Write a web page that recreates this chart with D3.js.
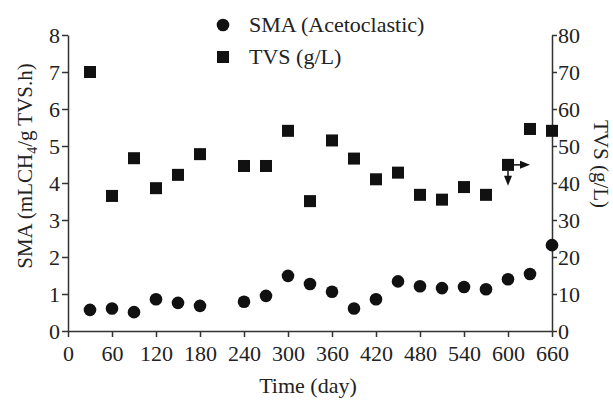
<!DOCTYPE html>
<html>
<head>
<meta charset="utf-8">
<script src="https://cdn.jsdelivr.net/npm/d3@7"></script>
<style>
  body { margin: 0; background: #fff; }
  text { font-family: "Liberation Serif", "Times New Roman", serif; fill: #222; }
</style>
</head>
<body>
<div id="chart"></div>
<script>
// time in days
const days = [30, 60, 90, 120, 150, 180, 240, 270, 300, 330, 360, 390, 420, 450, 480, 510, 540, 570, 600, 630, 660];
// SMA (Acetoclastic), mLCH4/g TVS.h
const sma = [0.57, 0.61, 0.51, 0.86, 0.76, 0.68, 0.79, 0.95, 1.49, 1.27, 1.06, 0.61, 0.86, 1.34, 1.21, 1.16, 1.19, 1.13, 1.40, 1.54, 2.32];
// TVS, g/L
const tvs = [70, 36.5, 46.7, 38.6, 42.2, 47.8, 44.6, 44.6, 54.1, 35.1, 51.5, 46.6, 41.0, 42.8, 36.8, 35.5, 38.9, 36.8, 44.9, 54.6, 54.1];
const xTicks = d3.range(0, 661, 60);
const leftTicks = d3.range(0, 9, 1);
const rightTicks = d3.range(0, 81, 10);

const width = 613, height = 400;
const margin = {top: 35, right: 61, bottom: 69, left: 68};

const svg = d3.select("#chart").append("svg")
    .attr("width", width)
    .attr("height", height);

const x = d3.scaleLinear().domain([0, 660]).range([margin.left, width - margin.right]);
const yL = d3.scaleLinear().domain([0, 8]).range([height - margin.bottom, margin.top]);
const yR = d3.scaleLinear().domain([0, 80]).range([height - margin.bottom, margin.top]);

function styleAxis(g) {
    g.selectAll("path, line").attr("stroke", "#333").attr("stroke-width", 1.5);
    g.selectAll("text").style("font-family", '"Liberation Serif", serif').style("font-size", "22px").attr("fill", "#222");
}

svg.append("g")
    .attr("transform", `translate(0,${height - margin.bottom})`)
    .call(d3.axisBottom(x).tickValues(xTicks).tickSize(6).tickPadding(8).tickSizeOuter(0))
    .call(styleAxis);

svg.append("g")
    .attr("transform", `translate(${margin.left},0)`)
    .call(d3.axisLeft(yL).tickValues(leftTicks).tickSize(6).tickPadding(2).tickSizeOuter(0))
    .call(styleAxis)
    .call(g => g.selectAll("text").attr("dy", "0.35em"));

svg.append("g")
    .attr("transform", `translate(${width - margin.right},0)`)
    .call(d3.axisRight(yR).tickValues(rightTicks).tickSize(5).tickPadding(1).tickSizeOuter(0))
    .call(styleAxis)
    .call(g => g.selectAll("text").attr("dy", "0.33em"));

// SMA circles
svg.append("g").selectAll("circle")
    .data(days)
    .join("circle")
    .attr("cx", d => x(d))
    .attr("cy", (d, i) => yL(sma[i]))
    .attr("r", 6.3)
    .attr("fill", "#111");

// TVS squares
const sq = 12;
svg.append("g").selectAll("rect")
    .data(days)
    .join("rect")
    .attr("x", d => x(d) - sq / 2)
    .attr("y", (d, i) => yR(tvs[i]) - sq / 2)
    .attr("width", sq)
    .attr("height", sq)
    .attr("fill", "#111");

// arrows at day 600
const ax = x(600), ay = yR(tvs[18]);
const arrows = svg.append("g").attr("stroke", "#111").attr("fill", "#111");
arrows.append("line").attr("x1", ax + 6).attr("y1", ay).attr("x2", ax + 14).attr("y2", ay).attr("stroke-width", 1.5);
arrows.append("path").attr("stroke", "none").attr("d", `M${ax + 12},${ay - 4}L${ax + 22},${ay}L${ax + 12},${ay + 4}Z`);
arrows.append("line").attr("x1", ax).attr("y1", ay + 6).attr("x2", ax).attr("y2", ay + 13).attr("stroke-width", 1.5);
arrows.append("path").attr("stroke", "none").attr("d", `M${ax - 4},${ay + 11}L${ax},${ay + 21}L${ax + 4},${ay + 11}Z`);

// legend
const legend = svg.append("g");
legend.append("circle").attr("cx", 223).attr("cy", 25).attr("r", 6.3).attr("fill", "#111");
legend.append("text").attr("x", 249).attr("y", 32).style("font-size", "22px").text("SMA (Acetoclastic)");
legend.append("rect").attr("x", 217).attr("y", 51).attr("width", sq).attr("height", sq).attr("fill", "#111");
legend.append("text").attr("x", 249).attr("y", 64).style("font-size", "22px").text("TVS (g/L)");

// axis titles
svg.append("text")
    .attr("x", 308).attr("y", 393)
    .attr("text-anchor", "middle")
    .style("font-size", "22px")
    .text("Time (day)");

const yt = svg.append("text")
    .attr("transform", "translate(32,166) rotate(-90)")
    .attr("text-anchor", "middle")
    .style("font-size", "21px");
yt.append("tspan").text("SMA (mLCH");
yt.append("tspan").attr("dy", 5).style("font-size", "14px").text("4");
yt.append("tspan").attr("dy", -5).text("/g TVS.h)");

svg.append("text")
    .attr("transform", "translate(594,164) rotate(90)")
    .attr("text-anchor", "middle")
    .style("font-size", "21px")
    .text("TVS (g/L)");
</script>
</body>
</html>
